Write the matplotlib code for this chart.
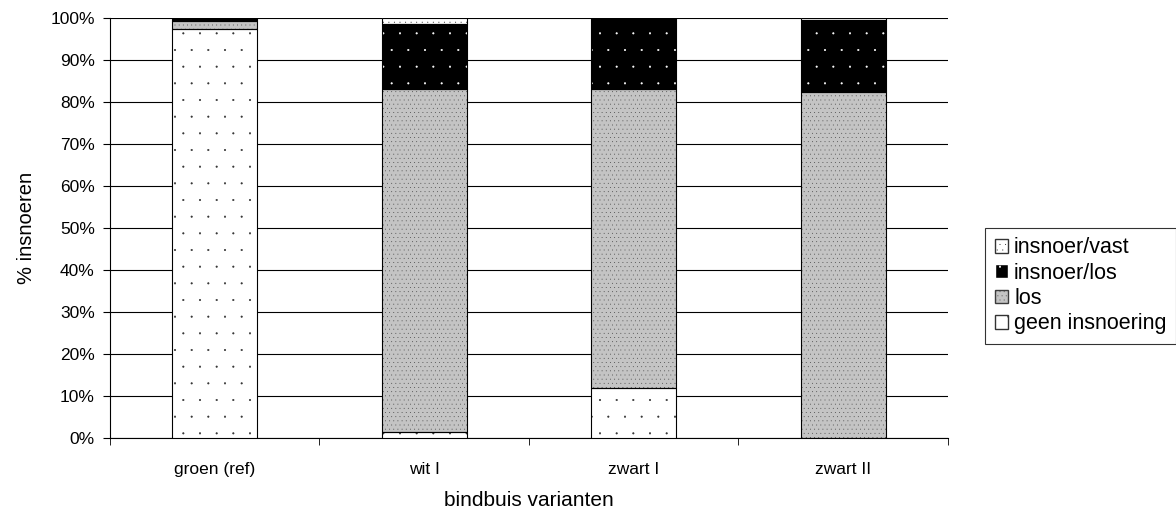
import numpy as np
import matplotlib.pyplot as plt
import matplotlib.hatch as mhatch
from matplotlib.patches import Patch

plt.rcParams['font.family'] = ['Liberation Sans', 'DejaVu Sans']
plt.rcParams['hatch.linewidth'] = 0.4
# finer stipple dots than the default '.' hatch
mhatch.SmallFilledCircles.size = 0.045

varianten = ['groen (ref)', 'wit I', 'zwart I', 'zwart II']
geen_insnoering = [97.5, 1.5, 12.0, 0.0]
los = [1.8, 81.5, 71.0, 82.4]
insnoer_los = [0.7, 15.5, 17.0, 17.1]
insnoer_vast = [0.0, 1.5, 0.0, 0.5]

series = [
    ('geen insnoering', geen_insnoering, 'white', '#333333', '.'),
    ('los', los, '#c4c4c4', '#3c3c3c', '....'),
    ('insnoer/los', insnoer_los, 'black', 'white', '.'),
    ('insnoer/vast', insnoer_vast, 'white', '#333333', '...'),
]

fig = plt.figure(figsize=(11.76, 5.15), dpi=100)
ax = fig.add_axes([0.0935, 0.1495, 0.7125, 0.8155])

x = np.arange(len(varianten)) + 0.5
width = 0.405
bottom = np.zeros(len(varianten))
handles = []
for name, vals, fc, hc, hatch in series:
    vals = np.array(vals)
    ax.bar(x, vals, width, bottom=bottom, color=fc, edgecolor=hc,
           hatch=hatch, linewidth=0, zorder=3)
    ax.bar(x, vals, width, bottom=bottom, fill=False, edgecolor='black',
           linewidth=0.8, zorder=4)
    handles.append(Patch(facecolor=fc, edgecolor=hc, hatch=hatch))
    bottom += vals

ax.set_xlim(0, 4)
ax.set_ylim(0, 100)
ax.set_yticks(np.arange(0, 101, 10))
ax.set_yticklabels([f'{v}%' for v in range(0, 101, 10)])
ax.set_xticks(x)
ax.set_xticklabels(varianten)
ax.set_xticks(np.arange(0, 5), minor=True)
ax.tick_params(axis='x', which='major', length=0, pad=17)
ax.tick_params(axis='x', which='minor', length=5, direction='out')
ax.tick_params(axis='y', length=5, direction='out', pad=6)
ax.tick_params(labelsize=12.5)
ax.yaxis.grid(True, color='black', linewidth=0.8, zorder=0)
ax.set_axisbelow(True)
for s in ['top', 'right']:
    ax.spines[s].set_visible(False)
ax.spines['left'].set_linewidth(0.8)
ax.spines['bottom'].set_linewidth(0.8)

ax.set_ylabel('% insnoeren', fontsize=14.5, labelpad=10)
ax.set_xlabel('bindbuis varianten', fontsize=15, labelpad=10)

# legend shows top segment first
leg = fig.legend(handles[::-1], [s[0] for s in series][::-1],
                 loc='center left', bbox_to_anchor=(0.8376, 0.445),
                 fontsize=15.5, frameon=True, fancybox=False,
                 edgecolor='black', handlelength=0.6, handleheight=0.6,
                 handletextpad=0.3, borderpad=0.45, labelspacing=0.2,
                 borderaxespad=0)
leg.get_frame().set_linewidth(0.8)

fig.savefig('out.png', dpi=100)
